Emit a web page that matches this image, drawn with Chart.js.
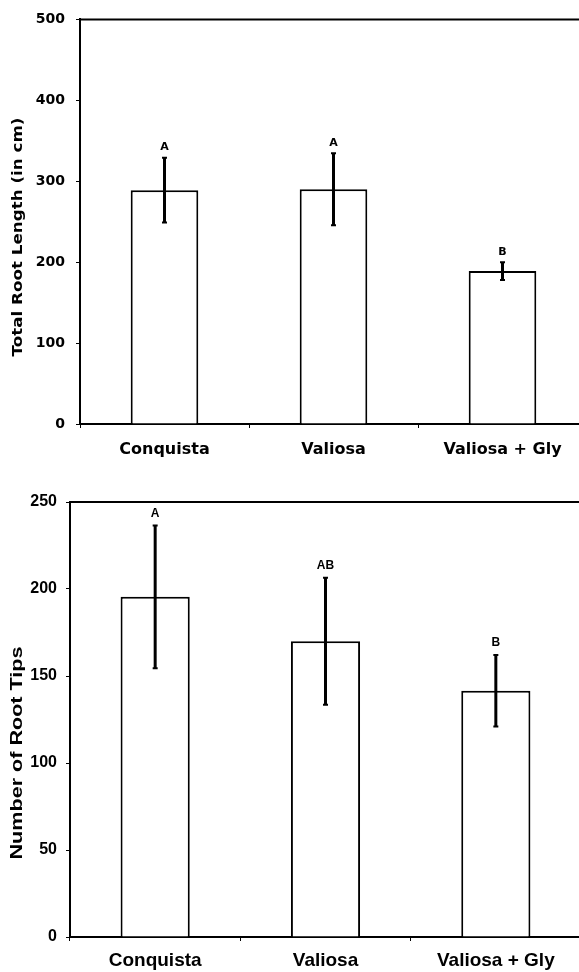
<!DOCTYPE html>
<html>
<head>
<meta charset="utf-8">
<script src="https://cdn.jsdelivr.net/npm/chart.js@4.4.1/dist/chart.umd.min.js"></script>
<style>
  html, body { margin:0; padding:0; background:#fff; overflow:hidden; width:579px; height:972px; }
  .wrap { position:absolute; left:0; }
</style>
</head>
<body>
<div class="wrap" style="top:0px"><canvas id="c1" width="600" height="475"></canvas></div>
<div class="wrap" style="top:480px"><canvas id="c2" width="600" height="492"></canvas></div>
<script>
// ---------- data ----------
const categories = ['Conquista', 'Valiosa', 'Valiosa + Gly'];

const rootLength = [289, 290, 189];
const rootLengthErr = [40, 44.5, 11];
const rootLengthLetters = ['A', 'A', 'B'];
const rootLengthTitle = 'Total Root Length (in cm)';
const rootLengthMax = 500;
const rootLengthStep = 100;

const rootTips = [195.5, 170, 141.5];
const rootTipsErr = [41, 36.5, 20.5];
const rootTipsLetters = ['A', 'AB', 'B'];
const rootTipsTitle = 'Number of Root Tips';
const rootTipsMax = 250;
const rootTipsStep = 50;

// ---------- plugins ----------
const errorBarsPlugin = {
  id: 'errorBars',
  afterDatasetsDraw(chart, args, opts) {
    const ctx = chart.ctx, x = chart.scales.x, y = chart.scales.y;
    const vals = chart.data.datasets[0].data;
    ctx.save();
    ctx.strokeStyle = '#000';
    ctx.fillStyle = '#000';
    vals.forEach((v, i) => {
      const px = x.getPixelForValue(i);
      const yt = y.getPixelForValue(v + opts.errors[i]);
      const yb = y.getPixelForValue(v - opts.errors[i]);
      ctx.lineWidth = 3;
      ctx.beginPath(); ctx.moveTo(px, yt); ctx.lineTo(px, yb); ctx.stroke();
      ctx.lineWidth = 2;
      ctx.beginPath();
      ctx.moveTo(px - 2.5, yt); ctx.lineTo(px + 2.5, yt);
      ctx.moveTo(px - 2.5, yb); ctx.lineTo(px + 2.5, yb);
      ctx.stroke();
      ctx.font = opts.letterFont;
      ctx.textAlign = 'center';
      ctx.textBaseline = 'bottom';
      ctx.fillText(opts.letters[i], px, yt - opts.gap);
    });
    ctx.restore();
  }
};

const framePlugin = {
  id: 'frame',
  afterDraw(chart, args, opts) {
    const ctx = chart.ctx, a = chart.chartArea;
    ctx.save();
    ctx.strokeStyle = '#000';
    ctx.lineWidth = 2;
    ctx.beginPath();
    ctx.moveTo(a.left, a.top);
    ctx.lineTo(chart.width, a.top);
    ctx.stroke();
    // y-axis title (stretched along its length like the original)
    ctx.font = opts.titleFont;
    ctx.fillStyle = '#000';
    ctx.textAlign = 'center';
    ctx.textBaseline = 'middle';
    const w = ctx.measureText(opts.title).width;
    ctx.translate(opts.titleX, opts.titleY);
    ctx.rotate(-Math.PI / 2);
    ctx.scale(opts.titleLength / w, 1);
    ctx.fillText(opts.title, 0, 0);
    ctx.restore();
  }
};

function makeChart(id, values, errs, letters, max, step, cfg) {
  return new Chart(document.getElementById(id), {
    type: 'bar',
    data: {
      labels: categories,
      datasets: [{
        data: values,
        backgroundColor: '#ffffff',
        borderColor: '#000000',
        borderWidth: 2,
        categoryPercentage: 1,
        barPercentage: cfg.barPct
      }]
    },
    plugins: [errorBarsPlugin, framePlugin],
    options: {
      responsive: false,
      animation: false,
      devicePixelRatio: 1,
      layout: { padding: cfg.padding },
      plugins: {
        legend: { display: false },
        tooltip: { enabled: false },
        errorBars: { errors: errs, letters: letters, letterFont: cfg.letterFont, gap: cfg.letterGap },
        frame: { title: cfg.title, titleFont: cfg.titleFont, titleX: cfg.titleX, titleY: cfg.titleY, titleLength: cfg.titleLength }
      },
      scales: {
        x: {
          afterFit: s => { s.height = cfg.xHeight; },
          grid: { offset: true, drawOnChartArea: false, drawTicks: true, tickLength: 4, color: '#000', lineWidth: 1 },
          border: { display: true, color: '#000', width: 2 },
          ticks: { color: '#000', font: cfg.xFont, padding: cfg.xPad, maxRotation: 0, autoSkip: false }
        },
        y: {
          min: 0, max: max,
          afterFit: s => { s.width = cfg.yWidth; },
          grid: { drawOnChartArea: false, drawTicks: true, tickLength: 4, color: '#000', lineWidth: 1 },
          border: { display: true, color: '#000', width: 2 },
          ticks: { stepSize: step, color: '#000', font: cfg.yFont, padding: cfg.yPad }
        }
      }
    }
  });
}

makeChart('c1', rootLength, rootLengthErr, rootLengthLetters, rootLengthMax, rootLengthStep, {
  barPct: 0.40,
  padding: { top: 16, right: 13, left: 0, bottom: 0 },
  xHeight: 51, yWidth: 80,
  xFont: { family: 'DejaVu Sans', weight: 'bold', size: 16 },
  yFont: { family: 'DejaVu Sans', weight: 'bold', size: 14 },
  xPad: 12, yPad: 11,
  letterFont: 'bold 11px "DejaVu Sans"', letterGap: 5,
  title: rootLengthTitle, titleFont: 'bold 14px "DejaVu Sans"', titleX: 18, titleY: 237, titleLength: 239
});

makeChart('c2', rootTips, rootTipsErr, rootTipsLetters, rootTipsMax, rootTipsStep, {
  barPct: 0.406,
  padding: { top: 22, right: 19, left: 0, bottom: 0 },
  xHeight: 35, yWidth: 70,
  xFont: { family: 'Liberation Sans', weight: 'bold', size: 19 },
  yFont: { family: 'Liberation Sans', weight: 'bold', size: 16 },
  xPad: 8, yPad: 9,
  letterFont: 'bold 12px "Liberation Sans"', letterGap: 6,
  title: rootTipsTitle, titleFont: 'bold 16px "Liberation Sans"', titleX: 18, titleY: 273, titleLength: 213
});
</script>
</body>
</html>
